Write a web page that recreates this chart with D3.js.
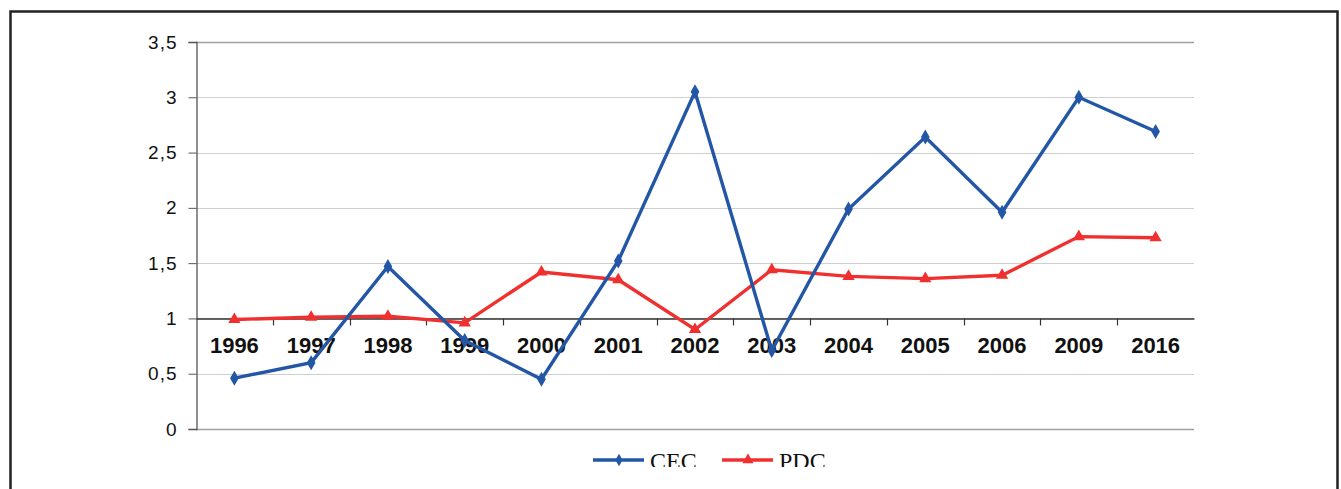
<!DOCTYPE html>
<html>
<head>
<meta charset="utf-8">
<script src="https://cdn.jsdelivr.net/npm/d3@7"></script>
<style>
  body { margin: 0; background: #fff; }
  svg { display: block; }
</style>
</head>
<body>
<div id="chart"></div>
<script>
const years = ["1996", "1997", "1998", "1999", "2000", "2001", "2002", "2003", "2004", "2005", "2006", "2009", "2016"];
const cec = [0.46, 0.60, 1.47, 0.80, 0.45, 1.52, 3.05, 0.71, 1.99, 2.64, 1.96, 3.00, 2.69];
const pdc = [0.99, 1.01, 1.02, 0.96, 1.42, 1.35, 0.90, 1.44, 1.38, 1.36, 1.39, 1.74, 1.73];
const yTicks = [0, 0.5, 1, 1.5, 2, 2.5, 3, 3.5];
const seriesNames = ["CEC", "PDC"];

const W = 1341, H = 489;
const margin = { top: 42, left: 196, right: 147, bottom: 60 };

const svg = d3.select("#chart")
  .append("svg")
  .attr("width", W)
  .attr("height", H);

// outer frame (bottom edge is cut off in the picture)
svg.append("path")
  .attr("d", `M10.5,${H + 5}V11.5H1337.5V${H + 5}`)
  .attr("fill", "none")
  .attr("stroke", "#222")
  .attr("stroke-width", 2.5);

const x = d3.scaleBand()
  .domain(years)
  .range([margin.left, 1194]);

const y = d3.scaleLinear()
  .domain([0, 3.5])
  .range([429, 42]);

// gridlines
svg.append("g")
  .selectAll("line")
  .data(yTicks)
  .join("line")
  .attr("x1", margin.left)
  .attr("x2", 1194)
  .attr("y1", (d) => Math.round(y(d)) + 0.5)
  .attr("y2", (d) => Math.round(y(d)) + 0.5)
  .attr("stroke", (d) => (d === 0 || d === 3.5) ? "#a0a0a0" : "#cfcfcf")
  .attr("stroke-width", (d) => (d === 0 || d === 3.5) ? 1.5 : 1.2);

// y axis
const yAxis = svg.append("g")
  .attr("transform", `translate(${margin.left + 0.5},0)`)
  .call(d3.axisLeft(y).tickValues(yTicks).tickSize(8).tickPadding(11)
    .tickFormat((d) => String(d).replace(".", ",")));
yAxis.select(".domain").attr("stroke", "#555").attr("stroke-width", 1.3);
yAxis.selectAll(".tick line").attr("stroke", "#555");
yAxis.selectAll(".tick text")
  .attr("font-family", "Liberation Sans, Arial, sans-serif")
  .attr("font-size", 19)
  .attr("letter-spacing", 1)
  .attr("fill", "#111");

// category axis crossing at 1
const xAxis = svg.append("g")
  .attr("transform", `translate(0,${Math.round(y(1)) + 0.5})`)
  .call(d3.axisBottom(x).tickSize(0).tickPadding(19).tickSizeOuter(0));
xAxis.select(".domain").attr("stroke", "#333").attr("stroke-width", 1.3);
xAxis.selectAll(".tick text")
  .attr("font-family", "Liberation Sans, Arial, sans-serif")
  .attr("font-size", 22)
  .attr("font-weight", "bold")
  .attr("fill", "#111");

// tick marks between categories
svg.append("g")
  .selectAll("line")
  .data(years.slice(1))
  .join("line")
  .attr("x1", (d) => Math.round(x(d)) + 0.5)
  .attr("x2", (d) => Math.round(x(d)) + 0.5)
  .attr("y1", y(1))
  .attr("y2", y(1) + 7)
  .attr("stroke", "#333")
  .attr("stroke-width", 1.2);

const cx = (d, i) => x(years[i]) + x.bandwidth() / 2;
const line = d3.line().x(cx).y((d) => y(d));

const blue = "#2357a6", red = "#f0302f";

svg.append("path")
  .datum(pdc)
  .attr("d", line)
  .attr("fill", "none")
  .attr("stroke", red)
  .attr("stroke-width", 3.4);

svg.append("g")
  .selectAll("path")
  .data(pdc)
  .join("path")
  .attr("transform", (d, i) => `translate(${cx(d, i)},${y(d)})`)
  .attr("d", d3.symbol(d3.symbolTriangle, 65))
  .attr("fill", red);

svg.append("path")
  .datum(cec)
  .attr("d", line)
  .attr("fill", "none")
  .attr("stroke", blue)
  .attr("stroke-width", 3.4);

svg.append("g")
  .selectAll("path")
  .data(cec)
  .join("path")
  .attr("transform", (d, i) => `translate(${cx(d, i)},${y(d)})`)
  .attr("d", d3.symbol(d3.symbolDiamond, 65))
  .attr("fill", blue);

// legend, clipped at the bottom like the picture
svg.append("clipPath")
  .attr("id", "legclip")
  .append("rect")
  .attr("x", 0).attr("y", 440).attr("width", W).attr("height", 27);

const legend = svg.append("g").attr("clip-path", "url(#legclip)");
const legendItems = [
  { name: seriesNames[0], color: blue, symbol: d3.symbolDiamond, size: 45, x0: 593 },
  { name: seriesNames[1], color: red, symbol: d3.symbolTriangle, size: 55, x0: 722 }
];
legendItems.forEach((it) => {
  legend.append("line")
    .attr("x1", it.x0).attr("x2", it.x0 + 51)
    .attr("y1", 460).attr("y2", 460)
    .attr("stroke", it.color)
    .attr("stroke-width", 3.4);
  legend.append("path")
    .attr("transform", `translate(${it.x0 + 26},460)`)
    .attr("d", d3.symbol(it.symbol, it.size))
    .attr("fill", it.color);
  legend.append("text")
    .attr("x", it.x0 + 57)
    .attr("y", 469)
    .attr("font-family", "Liberation Serif, Times New Roman, serif")
    .attr("font-size", 24)
    .attr("fill", "#111")
    .text(it.name);
});
</script>
</body>
</html>
